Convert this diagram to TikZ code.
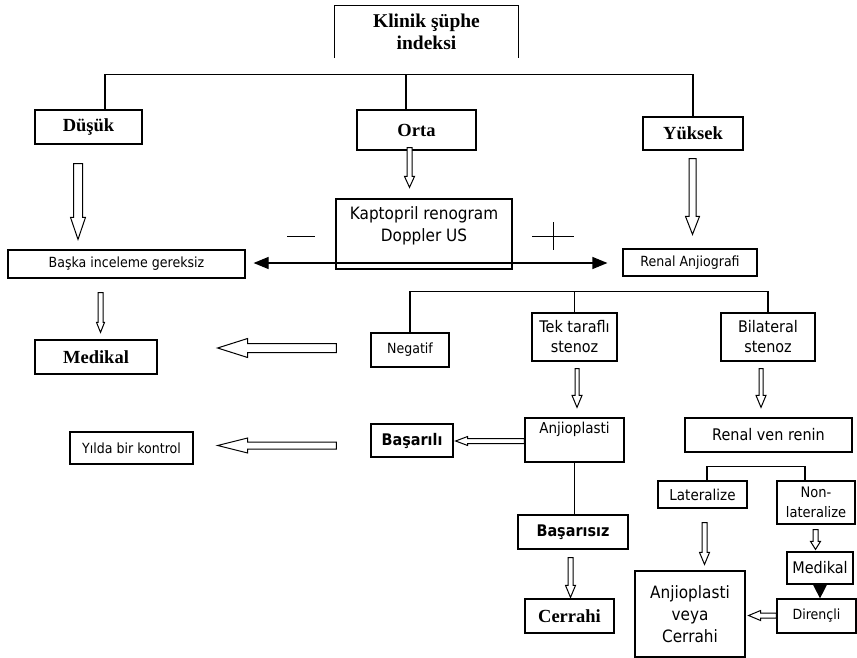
\documentclass[tikz,border=0pt]{standalone}
\usepackage{fontspec}
\setmainfont{Liberation Serif}
\newfontfamily\tahoma[FakeStretch=0.9]{DejaVu Sans}
\usepackage{tikz}
\usetikzlibrary{calc}
\usetikzlibrary{arrows.meta}
\tikzset{
  boxline/.style={line width=1.2pt},
  box/.style={draw, line width=1.2pt, inner sep=0pt, align=center},
  titletext/.style={font=\fontsize{18.5}{22}\selectfont\bfseries},
  smalltext/.style={font=\tahoma\fontsize{14}{18}\selectfont},
  midtext/.style={font=\tahoma\fontsize{16}{20}\selectfont},
  bigtext/.style={font=\tahoma\fontsize{17}{22}\selectfont},
  boldsans/.style={font=\tahoma\bfseries\fontsize{16}{20}\selectfont},
  blockarrow/.style={draw, line width=1pt, fill=white},
  signline/.style={line width=1pt}
}
\newcommand{\hollowdown}[5]{ \draw[blockarrow] let \p1 = #1, \p2 = #2 in (\x1-#3pt,\y1) -- (\x1+#3pt,\y1) -- (\x1+#3pt,\y2+#5pt) -- (\x1+#4pt,\y2+#5pt) -- (\x1,\y2) -- (\x1-#4pt,\y2+#5pt) -- (\x1-#3pt,\y2+#5pt) -- cycle;}
\newcommand{\hollowleft}[5]{ \draw[blockarrow] let \p1 = #1, \p2 = #2 in (\x1,\y1-#3pt) -- (\x1,\y1+#3pt) -- (\x2+#5pt,\y1+#3pt) -- (\x2+#5pt,\y1+#4pt) -- (\x2,\y1) -- (\x2+#5pt,\y1-#4pt) -- (\x2+#5pt,\y1-#3pt) -- cycle;}
\begin{document}
\begin{tikzpicture}[x=1pt, y=-1pt]

        \useasboundingbox (0,0) rectangle (857,658);

        % top
        \node[titletext, font=\fontsize{19.5}{22}\selectfont\bfseries, align=center, inner sep=0pt, minimum width=183pt, minimum height=52pt] (klinik) at (426.5,32) {Klinik şüphe\\indeksi};
        \draw[boxline] (klinik.south west) -- (klinik.north west) -- (klinik.north east) -- (klinik.south east);

        % row1
        \node[box, titletext, minimum width=107pt, minimum height=34pt] (dusuk) at (88.5,127) {Düşük};
        \node[box, titletext, minimum width=119pt, minimum height=40pt] (orta) at (416.5,130) {Orta};
        \node[box, titletext, minimum width=100pt, minimum height=33pt] (yuksek) at (693,133.5) {Yüksek};

        \draw[boxline] ($(dusuk.north)+(16.5,0)$) -- ++(0,-35) coordinate (tr) -| (yuksek.north);
        \draw[boxline] ($(orta.north)+(-10.5,0)$) -- ($(orta.north |- tr)+(-10.5,0)$);

        % row2
        \node[box, minimum width=176pt, minimum height=70pt] (kapto) at (424,234) {};
        \node[bigtext, align=center] (kaptotext) at (424,226) {Kaptopril renogram\\Doppler US};
        \node[box, smalltext, minimum width=237pt, minimum height=28pt] (baska) at (126.5,264) {Başka inceleme gereksiz};
        \node[box, smalltext, minimum width=134pt, minimum height=27pt] (renalanj) at (690,262.5) {Renal Anjiografi};

        \hollowdown{($(dusuk.south)+(-10.5,19)$)}{($(baska.north)+(0,-10)$)}{4.5}{7.5}{22}
        \hollowdown{($(orta.south)+(-7,-3)$)}{($(kapto.north)+(0,-11)$)}{2.5}{5}{11}
        \hollowdown{($(yuksek.south)+(-0.5,8)$)}{($(renalanj.north)+(0,-14)$)}{3.5}{7}{18}

        \draw[boxline, {Triangle[length=15pt,width=12pt]}-{Triangle[length=15pt,width=12pt]}] ($(baska.east)+(8,-1)$) -- ($(renalanj.west)+(-15,0.5)$);

        \draw[signline] (287,236) -- (315,236);
        \draw[signline] (532,236) -- (574,236);
        \draw[signline] (553,222) -- (553,250);

        % row3
        \node[box, titletext, minimum width=122pt, minimum height=34pt] (medikal) at (96,357) {Medikal};
        \node[box, smalltext, minimum width=78pt, minimum height=34pt] (negatif) at (410,350) {Negatif};
        \node[box, midtext, minimum width=85pt, minimum height=48pt] (tek) at (574.5,337) {Tek taraflı\\stenoz};
        \node[box, midtext, minimum width=94pt, minimum height=48pt] (bilat) at (768,337) {Bilateral\\stenoz};

        \draw[boxline] (negatif.north) -- ++(0,-41) coordinate (br) -| (bilat.north);
        \draw[boxline] (tek.north) -- (tek.north |- br);

        \hollowdown{($(baska.south)+(-26,14)$)}{($(medikal.north)+(0,-7)$)}{2.5}{4}{10}
        \hollowleft{($(negatif.west)+(-34,-2)$)}{($(medikal.east)+(60,0)$)}{4.5}{9.5}{30}

        % row4
        \node[box, smalltext, minimum width=123pt, minimum height=32pt] (yilda) at (131.5,448) {Yılda bir kontrol};
        \node[box, boldsans, minimum width=82pt, minimum height=33pt] (basarili) at (412,440.5) {Başarılı};
        \node[box, minimum width=99pt, minimum height=44pt] (anjio) at (574.5,440) {};
        \node[smalltext, font=\tahoma\fontsize{15}{18}\selectfont] (anjiotext) at (574.5,429) {Anjioplasti};
        \node[box, midtext, minimum width=167pt, minimum height=34pt] (renalven) at (768.5,435) {Renal ven renin};

        \hollowdown{($(tek.south)+(2.5,7)$)}{($(anjio.north)+(0,-10)$)}{2}{5}{12}
        \hollowdown{($(bilat.south)+(-7,7)$)}{($(renalven.north)+(0,-10)$)}{2}{5}{12}
        \hollowleft{($(anjio.west)+(0,1)$)}{($(basarili.east)+(2,0)$)}{2.5}{4.5}{12}
        \hollowleft{($(basarili.west)+(-34,5)$)}{($(yilda.east)+(24,0)$)}{3.5}{7.5}{30}

        % row5
        \node[box, smalltext, font=\tahoma\fontsize{15}{18}\selectfont, minimum width=89pt, minimum height=27pt] (lateral) at (702.5,494.5) {Lateralize};
        \node[box, smalltext, font=\tahoma\fontsize{14.5}{20}\selectfont, minimum width=78pt, minimum height=43pt] (nonlat) at (816,502.5) {Non-\\lateralize};
        \node[box, boldsans, minimum width=110pt, minimum height=34pt] (basarisiz) at (573,532) {Başarısız};
        \node[box, bigtext, font=\tahoma\fontsize{16}{20}\selectfont, minimum width=66pt, minimum height=32pt] (medikalb) at (820,568) {Medikal};
        \node[box, titletext, minimum width=89pt, minimum height=34pt] (cerrahi) at (569.5,616) {Cerrahi};
        \node[box, bigtext, minimum width=110pt, minimum height=86pt] (anjcer) at (690,614) {Anjioplasti\\veya\\Cerrahi};
        \node[box, smalltext, minimum width=79pt, minimum height=34pt] (direncli) at (816.5,616) {Dirençli};

        \draw[boxline] ($(lateral.north)+(4.5,0)$) -- ++(0,-14) coordinate (lb) -| ($(nonlat.north)+(-11,0)$);
        \draw[boxline] (anjio.south) -- (anjio.south |- basarisiz.north);
        \draw[boxline, -{Triangle[length=15pt,width=15pt]}] (medikalb.south) -- (medikalb.south |- direncli.north);

        \hollowdown{($(basarisiz.south)+(-2.5,8)$)}{($(cerrahi.north)+(0,-1)$)}{2.5}{5}{12}
        \hollowdown{($(lateral.south)+(2,14)$)}{($(anjcer.north)+(0,-6)$)}{2.5}{5}{12}
        \hollowdown{($(nonlat.south)+(-0.5,5)$)}{($(medikalb.north)+(0,-2)$)}{2.5}{5}{8}
        \hollowleft{($(direncli.west)+(0,-0.5)$)}{($(anjcer.east)+(3,0)$)}{2.5}{5}{12}

\end{tikzpicture}
\end{document}
